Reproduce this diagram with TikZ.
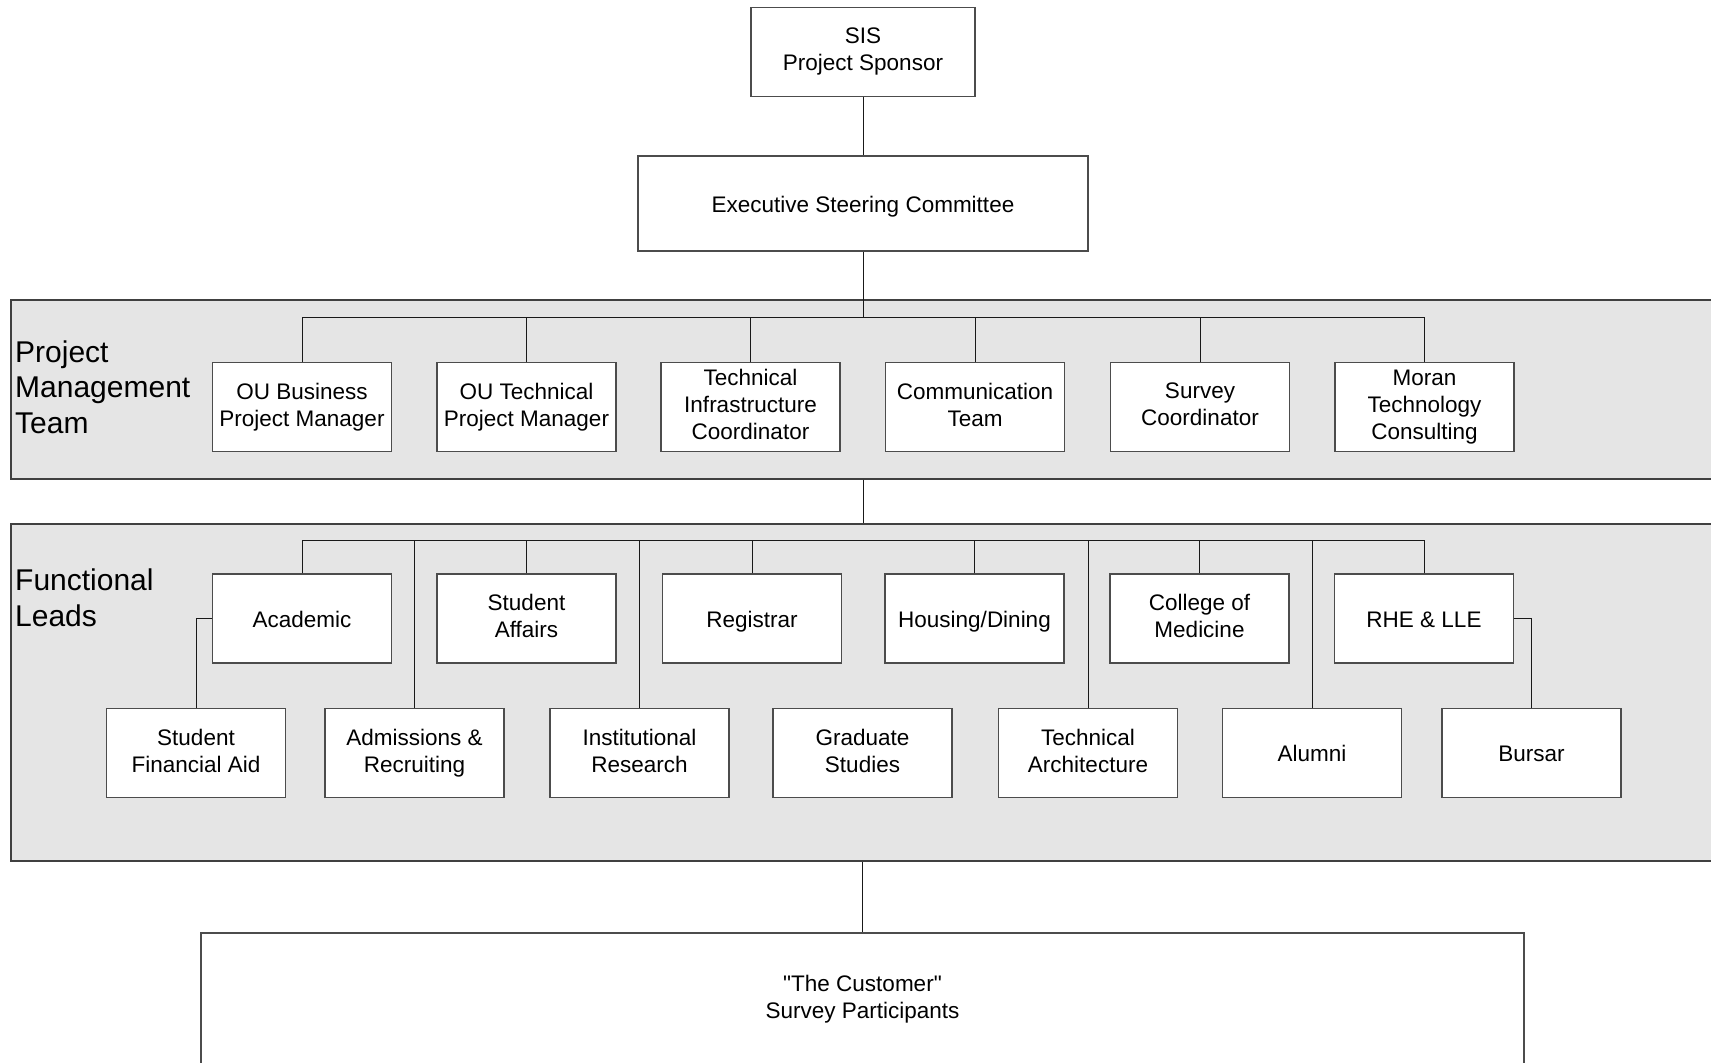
\documentclass[tikz,border=0pt]{standalone}
\usepackage{fontspec}
\setmainfont{Liberation Sans}[Ligatures=TeXOff]
\newcommand\boxstrut{\vrule width 0pt height 22pt depth 5pt}
\begin{document}
\begin{tikzpicture}
[   x=1pt,y=-1pt,
    box/.style={draw=black!70,fill=white,line width=1.3pt,minimum width=179pt,minimum height=89pt,
        align=center,inner sep=0pt,font=\fontsize{22.5}{27}\selectfont,
        execute at begin node=\boxstrut,execute at end node=\boxstrut},
    band/.style={draw=black!75,fill=black!10,line width=1.6pt,anchor=north west,minimum width=1710pt,inner sep=0pt},
    bandlabel/.style={anchor=west,align=left,inner sep=0pt,font=\fontsize{30}{35.5}\selectfont},
    link/.style={draw=black!90,line width=1pt},
]
    \useasboundingbox (0,0) rectangle (1711,1063);
    %
    \node[band,minimum height=179pt] (pmt) at (10,299) {};
    \node[band,minimum height=337pt] (flt) at (10,523) {};
    \node[bandlabel] (pmt-label) at (15,387) {Project\\Management\\Team};
    \node[bandlabel] (flt-label) at (15,598) {Functional\\Leads};

    \node[box,minimum width=224pt] (sis) at (863,52) {SIS\\Project Sponsor};
    \node[box,minimum width=450pt,minimum height=95pt] (exec) at (863,203.5) {Executive Steering Committee};
    \draw[link] (sis) -- (exec);

    \coordinate (pmbus) at (863,317.5);
    \coordinate (flbus) at (863,540);

    % project management team
    \foreach \k/\x/\txt in {1/302/{OU Business\\Project Manager},2/526.5/{OU Technical\\Project Manager},
        3/750.5/{Technical\\Infrastructure\\Coordinator},4/975/{Communication\\Team},
        5/1200/{Survey\\Coordinator},6/1424.5/{Moran\\Technology\\Consulting}}
    {
        \node[box] (pm-\k) at (\x,407) {\txt};
        \draw[link] (pm-\k.north) -- (pm-\k.north |- pmbus);
    }
    \draw[link] (pm-1.north |- pmbus) -- (pm-6.north |- pmbus);
    \draw[link] (exec) -- (pmbus);

    % functional leads, upper row
    \foreach \k/\x/\txt in {1/302/{Academic},2/526.5/{Student\\Affairs},3/752/{Registrar},
        4/974.5/{Housing/Dining},5/1199.5/{College of\\Medicine},6/1424/{RHE \& LLE}}
    {
        \node[box] (fl-\k) at (\x,618.5) {\txt};
        \draw[link] (fl-\k.north) -- (fl-\k.north |- flbus);
    }
    \draw[link] (fl-1.north |- flbus) -- (fl-6.north |- flbus);

    % functional leads, lower row
    \foreach \k/\x/\txt in {1/196/{Student\\Financial Aid},2/414.5/{Admissions \&\\Recruiting},
        3/639.5/{Institutional\\Research},4/862.5/{Graduate\\Studies},5/1088/{Technical\\Architecture},
        6/1312/{Alumni},7/1531.5/{Bursar}}
    {
        \node[box] (fb-\k) at (\x,753) {\txt};
    }
    \foreach \k in {2,3,5,6}
    {
        \draw[link] (fb-\k.north) -- (fb-\k.north |- flbus);
    }
    \draw[link] (fl-1.west) -| (fb-1.north);
    \draw[link] (fl-6.east) -| (fb-7.north);

    \draw[link] (pmt.south -| exec) -- (flt.north -| exec);

    \node[box,minimum width=1323pt,minimum height=132pt] (cust) at (862.5,999) {"The Customer"\\Survey Participants};
    \draw[link] (flt.south -| cust) -- (cust);
\end{tikzpicture}
\end{document}
